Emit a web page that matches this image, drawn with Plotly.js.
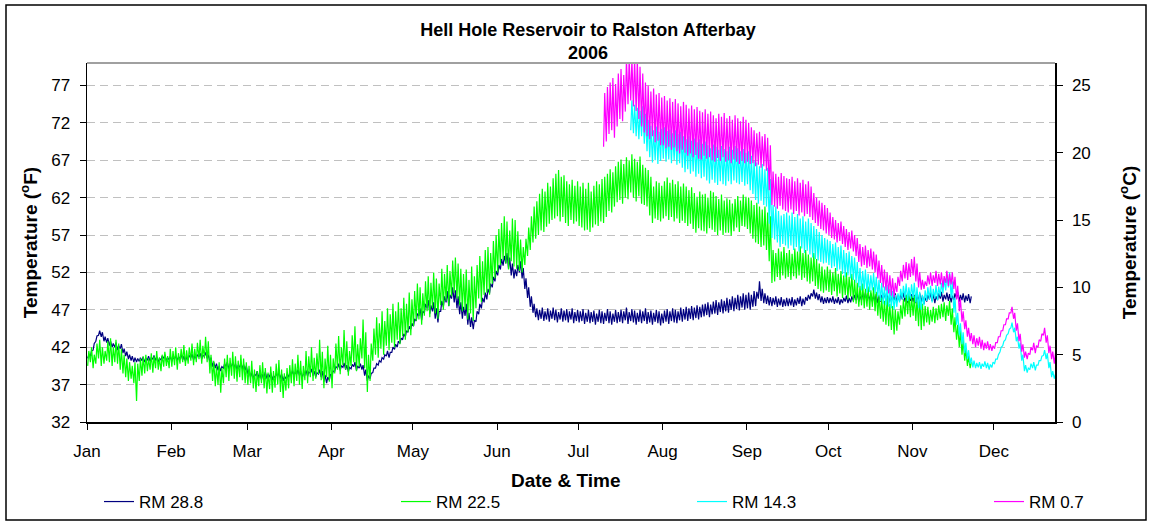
<!DOCTYPE html>
<html><head><meta charset="utf-8">
<script src="https://cdn.plot.ly/plotly-3.0.1.min.js"></script>
<style>html,body{margin:0;padding:0;background:#fff;}#chart{width:1151px;height:521px;}</style>
</head><body><div id="chart"></div>
<script>
// Month tick positions and labels
const monthTicks = ['2006-01-01','2006-02-01','2006-03-01','2006-04-01','2006-05-01','2006-06-01','2006-07-01','2006-08-01','2006-09-01','2006-10-01','2006-11-01','2006-12-01'];
const monthLabels = ['Jan','Feb','Mar','Apr','May','Jun','Jul','Aug','Sep','Oct','Nov','Dec'];
const seriesNames = ['RM 28.8','RM 22.5','RM 14.3','RM 0.7'];

// RM 28.8 : daily low / high (deg F), 1 Jan - 22 Nov
const rm288Start = '2006-01-01';
const rm288Hi = [
41.0,41.5,42.5,43.5,44.2,44.0,43.4,43.2,42.8,42.5,
42.6,42.2,42.4,41.8,41.4,41.0,40.8,40.6,40.5,40.6,
40.7,40.5,40.8,40.6,40.9,40.7,40.5,40.8,41.0,40.6,40.8,
40.6,40.9,40.7,41.0,40.8,40.6,40.9,41.1,40.8,41.0,41.2,40.9,41.3,41.0,
40.6,40.0,39.8,39.5,39.4,39.8,40.0,39.7,40.0,39.8,39.6,39.9,39.7,39.5,
39.0,38.6,38.4,38.8,38.5,38.3,38.7,38.4,38.6,38.2,38.5,38.7,38.4,38.1,38.4,
38.6,38.9,38.7,39.0,38.8,38.5,38.9,38.7,39.1,38.8,38.6,39.0,38.8,38.3,38.0,38.4,
38.8,39.4,39.8,39.5,39.9,39.6,39.3,39.7,40.0,39.5,39.8,39.6,39.0,38.2,38.5,
39.2,39.8,40.2,40.6,41.0,41.5,41.3,42.0,42.4,42.8,43.2,43.8,44.2,44.8,45.2,
45.8,46.5,47.2,46.8,47.8,48.3,47.6,48.0,47.2,46.8,48.2,48.8,49.5,49.0,50.0,
49.6,48.8,48.0,47.4,47.8,46.6,46.0,45.6,46.8,47.8,48.6,49.3,49.8,50.5,51.4,52.2,
53.0,53.8,54.2,54.6,54.0,53.2,52.4,53.0,53.5,52.6,51.2,50.0,48.8,47.8,47.2,
47.0,47.3,46.8,47.2,46.9,47.3,47.0,46.7,47.2,46.9,47.1,46.8,47.2,46.7,47.0,
46.8,47.1,46.6,47.0,46.7,46.9,46.5,47.0,46.8,46.6,47.1,46.8,46.5,47.0,46.7,
47.0,46.8,47.3,46.7,47.1,46.9,46.6,47.0,46.8,47.2,46.7,46.9,46.6,47.0,46.8,46.5,
46.9,47.1,46.8,47.2,47.0,46.8,47.3,47.1,47.4,47.2,47.5,47.3,47.6,47.4,47.7,
47.8,48.0,47.7,48.1,48.3,48.0,48.4,48.2,48.6,48.4,48.8,48.6,49.0,48.8,49.2,49.0,
49.3,49.0,49.5,49.4,50.8,49.8,49.2,48.9,48.7,48.6,48.8,48.5,48.7,48.4,48.6,
48.5,48.7,48.4,48.6,48.8,48.5,48.7,49.0,49.2,49.7,49.3,49.1,48.8,48.6,48.7,
48.6,48.8,48.5,48.7,48.4,48.6,48.9,48.6,48.8,49.0,49.2,48.9,49.1,49.3,49.0,
49.2,48.9,49.1,48.8,49.0,49.3,49.1,48.8,49.0,49.2,48.9,49.1,49.3,49.0,48.8,49.1,
49.0,48.8,49.2,48.9,48.6,49.0,49.3,49.1,48.8,49.2,49.4,49.0,49.3,49.1,48.9,49.2,49.4,49.0,49.2,48.9,49.1,48.8
];
const rm288Lo = [
40.5,40.8,41.6,42.8,43.6,43.4,42.8,42.6,42.2,42.0,
42.0,41.6,41.8,41.2,40.8,40.4,40.2,40.0,40.0,40.1,
40.2,40.0,40.3,40.1,40.4,40.2,40.0,40.3,40.5,40.1,40.3,
40.1,40.4,40.2,40.5,40.3,40.1,40.4,40.6,40.3,40.5,40.7,40.4,40.8,40.5,
40.0,39.4,39.2,38.9,38.8,39.2,39.4,39.1,39.4,39.2,39.0,39.3,39.1,38.9,
38.4,38.0,37.8,38.2,37.9,37.7,38.1,37.8,38.0,37.6,37.9,38.1,37.8,37.5,37.8,
38.0,38.3,38.1,38.4,38.2,37.9,38.3,38.1,38.5,38.2,38.0,38.4,38.0,37.4,37.2,37.6,
38.2,38.8,39.2,38.9,39.3,39.0,38.7,39.1,39.4,38.9,39.2,39.0,38.2,37.5,37.8,
38.6,39.2,39.6,40.0,40.4,40.8,40.6,41.3,41.7,42.0,42.5,43.0,43.4,44.0,44.4,
44.8,45.5,46.2,45.6,46.6,47.2,46.5,46.8,45.8,45.3,46.8,47.4,48.0,47.5,48.5,
48.0,47.2,46.4,45.8,46.2,45.0,44.7,44.4,45.4,46.4,47.2,48.0,48.4,49.2,50.0,50.8,
51.6,52.4,52.9,53.2,52.5,51.6,51.2,51.5,52.0,51.2,49.8,48.6,47.4,46.6,46.0,
45.6,45.8,45.5,45.7,45.4,45.8,45.6,45.3,45.7,45.4,45.6,45.3,45.7,45.2,45.5,
45.3,45.5,45.1,45.4,45.2,45.4,45.0,45.4,45.2,45.1,45.5,45.2,45.0,45.4,45.2,
45.4,45.2,45.6,45.1,45.5,45.3,45.0,45.4,45.2,45.5,45.1,45.3,45.0,45.4,45.2,44.9,
45.2,45.4,45.1,45.5,45.3,45.2,45.6,45.4,45.7,45.5,45.8,45.6,45.9,45.7,46.0,
46.1,46.3,46.0,46.4,46.5,46.3,46.7,46.5,46.8,46.6,47.0,46.8,47.1,46.9,47.3,47.0,
47.2,47.0,47.4,47.5,48.5,48.2,47.9,47.8,47.6,47.5,47.7,47.4,47.6,47.4,47.5,
47.5,47.6,47.4,47.6,47.8,47.5,47.7,48.2,48.4,48.8,48.5,48.3,48.0,47.8,47.9,
47.9,48.0,47.8,47.9,47.7,47.9,48.1,47.9,48.0,48.2,48.3,48.1,48.3,48.4,48.2,
48.3,48.1,48.2,47.9,48.1,48.4,48.2,47.9,48.1,48.3,48.0,48.2,48.4,48.1,47.9,48.2,
48.1,47.9,48.3,48.0,47.8,48.1,48.4,48.2,47.9,48.3,48.5,48.1,48.4,48.2,48.0,48.3,48.5,48.1,48.3,48.0,48.2,47.9
];

// RM 22.5 : daily low / high (deg F), 1 Jan - 22 Nov
const rm225Start = '2006-01-01';
const rm225Hi = [
41.5,42.0,41.0,42.5,43.0,42.0,41.5,42.8,43.2,42.0,
43.0,42.5,41.8,41.0,40.5,40.0,39.5,40.0,39.8,40.5,
40.8,41.0,40.5,41.2,40.8,41.5,40.6,41.0,41.4,40.8,41.8,
41.5,42.0,41.2,41.8,42.3,41.6,42.0,42.5,41.8,42.6,43.0,42.2,43.4,42.8,
41.0,40.2,39.5,40.0,39.2,40.5,41.0,40.6,41.4,40.8,40.2,41.0,40.5,40.0,
39.5,40.2,39.0,38.8,39.6,40.0,39.2,38.6,39.4,38.8,39.8,40.3,39.0,38.5,39.2,
39.6,40.4,39.8,41.0,40.2,39.5,41.5,40.8,42.0,40.6,41.2,43.0,41.4,40.5,42.2,41.0,
40.5,42.5,43.5,42.0,44.3,42.8,41.5,43.6,44.8,42.4,43.2,45.7,44.0,41.0,42.5,
44.5,46.0,45.2,46.8,45.5,47.2,46.4,47.8,46.8,48.0,47.2,48.6,47.8,49.3,48.4,
49.5,50.5,50.0,49.2,50.8,51.5,50.6,52.0,51.2,50.5,52.5,51.8,53.0,52.2,53.6,
54.0,53.2,52.5,51.8,52.4,51.0,52.8,51.5,53.0,54.2,53.5,55.0,55.4,54.6,56.2,57.0,
57.8,58.6,59.5,58.8,57.6,59.2,59.0,57.5,56.4,55.4,56.5,58.0,59.5,60.8,61.5,
62.5,63.2,62.8,64.0,63.5,64.6,65.2,65.7,64.8,65.0,64.2,63.8,64.4,63.6,64.2,
63.5,64.0,63.2,64.0,62.8,63.6,64.2,63.8,64.5,64.8,65.2,65.8,65.4,66.2,66.8,
67.1,66.5,67.4,67.0,67.8,67.2,66.8,67.5,66.4,66.0,65.7,64.8,63.5,64.2,64.0,63.6,
64.2,64.7,64.0,64.4,63.8,64.2,63.5,63.9,63.5,63.0,63.4,62.6,62.1,62.8,62.4,
62.5,62.0,62.9,62.7,62.2,61.8,62.4,61.6,61.9,61.7,61.2,61.8,62.2,61.6,62.4,62.1,
62.0,61.6,61.0,61.3,60.8,60.4,60.8,60.0,59.5,55.0,54.6,55.2,54.8,55.4,54.6,
55.0,54.5,55.2,54.8,55.5,54.6,55.0,54.4,54.0,54.6,53.8,53.2,52.8,52.4,52.8,
52.4,52.0,52.6,51.8,52.2,51.6,52.0,51.4,51.8,51.0,50.6,50.2,50.5,49.8,50.1,
49.6,50.0,49.4,49.0,48.6,48.2,48.7,47.8,47.5,47.0,46.8,47.6,48.4,49.0,49.3,48.8,
48.9,48.5,48.7,47.8,47.5,47.4,47.0,47.4,47.2,47.6,47.8,48.0,47.6,48.2,47.2,46.0,45.0,44.3,43.0,41.8,40.8,40.0
];
const rm225Lo = [
39.5,40.0,39.2,39.8,40.5,39.5,39.8,40.2,40.0,39.5,
40.0,39.8,39.0,38.5,38.0,37.5,37.8,37.2,34.8,37.5,
38.2,38.5,38.8,39.0,38.6,39.2,39.0,38.8,39.4,39.5,39.2,
39.4,39.6,39.0,39.8,40.0,39.5,39.8,40.2,39.6,40.0,40.4,39.8,40.5,40.0,
38.5,37.5,36.8,37.0,35.9,37.2,38.0,37.5,38.2,37.8,37.4,38.0,37.6,37.2,
37.0,37.2,36.5,36.0,36.8,37.2,36.5,35.8,36.4,35.9,36.6,37.0,36.0,35.2,36.2,
36.5,37.2,36.8,37.5,37.0,36.4,37.6,37.2,38.0,37.5,37.8,38.4,37.6,36.5,38.0,37.4,
36.5,38.5,39.0,38.4,39.6,39.0,38.2,39.5,40.0,38.8,39.4,40.5,39.2,36.0,37.5,
40.2,41.0,40.6,41.8,41.0,42.2,41.6,42.6,42.0,43.0,42.4,43.5,43.0,44.0,43.6,
44.8,45.5,45.7,45.0,46.2,46.8,46.0,47.2,46.5,45.8,47.6,47.0,48.2,47.5,48.8,
49.3,48.5,47.6,46.8,47.0,45.7,46.5,45.5,47.2,48.5,48.0,49.0,49.3,49.0,50.5,51.2,
52.0,53.0,53.7,53.2,52.4,53.5,52.8,52.5,52.2,52.0,53.0,54.2,55.0,56.0,56.5,
57.0,57.6,57.4,58.1,58.5,59.0,59.2,59.5,58.8,59.4,58.6,58.2,59.0,58.5,58.8,
58.2,58.0,57.6,57.7,57.4,58.0,58.4,58.2,58.8,58.6,59.4,60.2,60.0,60.8,61.4,
61.7,61.2,62.0,61.8,62.7,62.0,61.5,62.2,61.2,61.0,60.8,59.6,58.6,59.2,59.0,58.8,
59.2,59.5,59.0,59.4,58.8,59.2,58.6,58.9,58.6,58.2,58.5,57.8,57.3,57.9,57.6,
57.5,57.2,57.9,57.7,57.4,57.0,57.6,57.0,57.3,57.3,56.9,57.5,58.0,57.4,58.2,58.1,
57.8,57.2,56.5,56.0,55.8,55.4,55.6,55.0,53.5,50.6,50.8,51.4,51.0,51.6,51.2,
51.4,51.0,51.5,51.2,51.6,51.0,51.3,50.8,50.5,50.8,50.2,49.8,49.5,49.3,49.6,
49.4,49.0,49.5,48.8,49.2,48.6,49.0,48.4,48.8,48.0,47.8,47.4,47.6,47.2,47.4,
47.0,47.4,46.8,46.2,45.8,45.4,45.0,44.8,44.3,43.7,44.2,45.0,45.8,46.1,46.4,46.0,
46.2,45.5,44.8,44.3,44.8,45.3,45.0,45.4,45.2,45.6,45.8,46.0,45.5,46.2,45.0,44.0,43.0,42.0,41.0,40.2,39.5,39.2
];

// RM 14.3 : daily low / high (deg F), 20 Jul - 23 Dec
const rm143Start = '2006-07-20';
const rm143Hi = [
75.0,74.4,74.0,73.6,74.2,73.2,72.4,71.6,71.0,71.5,70.8,71.2,
71.4,70.9,71.1,70.6,71.0,70.5,70.8,70.2,69.8,70.2,69.6,69.9,69.4,69.8,69.2,
69.5,69.0,68.6,69.1,68.8,68.4,68.9,68.5,68.2,68.8,68.4,68.9,68.6,68.2,68.5,68.0,
68.2,67.6,67.0,66.7,66.2,66.5,65.8,66.0,64.5,61.0,60.8,60.2,59.6,59.8,60.0,
59.6,60.0,59.4,59.8,59.2,59.5,58.8,59.2,58.6,58.2,57.8,57.4,57.0,56.6,56.4,
56.2,55.8,56.0,55.4,55.6,55.0,54.6,54.8,54.2,54.0,53.4,52.6,52.2,52.4,51.8,
51.6,51.9,51.4,51.0,50.6,50.1,50.3,49.8,49.5,49.0,49.2,49.8,50.2,50.5,50.0,50.4,
50.6,50.0,49.4,49.0,49.6,50.0,50.2,49.8,50.3,50.1,50.6,51.2,51.6,52.0,50.8,48.6,46.6,45.2,44.0,42.6,41.6,40.6,40.2,39.9,40.0,39.8,40.1,39.9,39.7,40.0,
40.4,41.0,42.0,42.8,43.6,44.4,45.3,44.6,43.4,42.6,41.0,39.6,39.2,39.8,40.0,39.6,40.2,40.8,41.6,41.2,40.0,38.8,38.4
];
const rm143Lo = [
71.0,70.6,70.2,69.8,70.2,69.2,68.2,67.4,66.7,67.0,66.5,66.9,
67.2,66.8,67.1,66.6,67.0,66.4,66.6,66.0,65.4,65.8,65.2,65.5,64.8,65.2,64.6,
64.8,64.3,63.9,64.4,64.0,63.7,64.2,63.8,63.6,64.2,63.8,64.3,64.0,63.8,64.1,63.6,
63.8,63.0,62.5,61.7,61.2,61.6,61.0,60.8,58.5,56.6,56.4,56.0,55.4,55.8,55.6,
55.2,55.6,55.0,55.4,54.8,55.2,54.6,54.9,54.4,54.0,53.8,53.6,53.4,53.2,53.3,
53.0,52.6,52.8,52.2,52.4,51.8,51.4,51.6,51.2,51.0,50.6,50.0,49.6,49.8,49.3,
49.4,49.6,49.2,48.8,48.2,47.8,47.6,47.4,47.2,47.0,47.4,48.0,48.4,48.6,48.2,48.5,
48.6,48.0,47.2,47.0,47.6,48.2,48.4,48.0,48.5,48.3,48.8,49.2,49.6,50.0,48.6,46.6,45.0,43.6,42.4,41.2,40.4,39.8,39.3,39.2,39.3,39.1,39.4,39.2,39.0,39.3,
39.8,40.4,41.4,42.2,43.0,43.8,44.6,44.0,42.8,41.8,40.2,38.8,38.6,39.0,39.2,38.9,39.6,40.2,40.9,40.4,39.2,38.0,37.8
];

// RM 0.7 : daily low / high (deg F), 10 Jul - 23 Dec
const rm07Start = '2006-07-10';
const rm07Hi = [
76.0,76.8,77.4,78.0,77.2,78.6,79.2,78.4,80.5,80.5,80.5,80.5,80.5,79.5,78.6,77.4,77.0,76.2,76.6,75.8,76.0,75.4,
75.6,75.0,75.3,74.8,75.2,74.6,74.2,74.8,74.4,73.9,74.3,73.8,74.1,73.6,73.4,
73.8,73.2,73.5,73.0,72.6,73.2,72.8,73.3,72.6,72.9,72.4,73.0,72.6,72.2,72.8,72.4,
72.0,71.4,71.0,70.6,70.8,70.2,70.5,70.0,69.0,65.5,65.2,64.8,65.3,64.9,64.6,
64.5,64.8,64.2,64.6,64.0,64.4,63.8,64.2,63.5,62.6,62.0,61.6,61.3,61.0,60.6,
60.0,59.4,59.0,58.6,58.8,58.2,57.8,57.4,57.6,57.0,56.6,55.8,55.4,55.6,55.0,
55.2,54.8,54.4,53.6,53.0,52.4,52.0,51.6,51.2,50.6,51.4,52.2,53.0,53.4,53.2,53.8,
54.1,53.2,52.0,51.0,50.8,51.6,52.0,51.6,52.2,51.8,52.0,51.5,52.2,51.8,52.0,51.4,50.2,48.4,46.8,45.6,44.6,43.9,43.6,43.2,43.4,43.0,42.6,42.8,42.4,42.2,
42.6,43.4,44.2,45.0,45.8,46.6,47.4,46.6,45.2,43.8,42.4,41.4,41.2,42.0,42.6,42.2,43.0,43.8,44.6,43.6,42.2,41.4,41.2
];
const rm07Lo = [
68.8,69.5,70.5,71.0,70.0,71.5,72.5,72.2,73.5,74.5,75.0,74.2,73.6,72.5,71.5,70.7,70.2,69.8,70.2,69.4,69.6,69.0,
69.0,68.6,68.8,68.4,68.7,68.2,67.9,68.4,68.0,67.6,67.9,67.4,67.7,67.2,67.1,
67.6,67.2,67.4,67.0,66.8,67.3,66.9,67.4,66.8,67.0,66.6,67.1,66.8,66.5,66.9,66.6,
66.8,66.5,66.6,66.2,66.4,66.0,66.2,65.6,63.0,61.0,60.8,60.5,60.9,60.4,60.2,
60.0,60.4,59.8,60.2,59.6,60.0,59.5,59.8,59.4,59.0,58.6,58.2,57.8,57.6,57.2,
57.0,56.6,56.4,56.0,56.2,55.8,55.4,55.0,55.2,54.8,54.2,53.4,52.8,53.0,52.6,
52.8,52.4,52.0,51.2,50.6,50.0,49.6,49.2,48.9,48.7,49.4,50.2,50.8,51.2,51.0,51.4,
51.6,50.8,50.0,49.7,49.8,50.2,50.4,50.2,50.6,50.2,50.4,50.0,50.6,50.2,50.4,49.8,48.4,46.8,45.4,44.4,43.4,42.8,42.4,42.0,42.2,41.8,41.6,41.8,41.6,41.5,
41.8,42.6,43.4,44.2,45.0,45.8,46.6,45.8,44.2,42.8,41.4,40.6,40.4,41.0,41.6,41.2,42.0,42.8,43.6,42.6,41.2,40.4,39.8
];

// ---- build traces (low reading early morning, high reading afternoon) ----
function fmt(ms){ return new Date(ms).toISOString().slice(0,16).replace('T',' '); }
function build(start, lo, hi){
  const t0 = Date.parse(start + 'T00:00:00Z');
  const x = [], y = [];
  const n = Math.min(lo.length, hi.length);
  for (let i = 0; i < n; i++){
    x.push(fmt(t0 + (i + 0.25) * 86400000)); y.push(lo[i]);
    x.push(fmt(t0 + (i + 0.67) * 86400000)); y.push(hi[i]);
  }
  return {x, y};
}
const colors = ['#000080','#00FF00','#00FFFF','#FF00FF'];
const legendIds = ['legend','legend2','legend3','legend4'];
const sets = [build(rm288Start, rm288Lo, rm288Hi), build(rm225Start, rm225Lo, rm225Hi),
              build(rm143Start, rm143Lo, rm143Hi), build(rm07Start, rm07Lo, rm07Hi)];
const traces = sets.map((s, i) => ({
  type: 'scatter', mode: 'lines', name: seriesNames[i], x: s.x, y: s.y,
  legend: legendIds[i],
  line: {color: colors[i], width: 1.2}, hoverinfo: 'skip'
}));
// empty trace so that the right (deg C) axis is laid out
traces.push({type:'scatter', mode:'lines', x: [], y: [], yaxis: 'y2', showlegend: false, hoverinfo: 'skip'});

const L = 87, R = 1055, T = 63, B = 422, W = 1151, H = 521;
const px = v => (v - L) / (R - L), py = v => (B - v) / (B - T);
const FONT = 'Arial, "Liberation Sans", sans-serif';

function legendAt(xPix){
  return {orientation: 'h', xref: 'container', yref: 'container',
          x: xPix / W, xanchor: 'left', y: 1 - 502 / H, yanchor: 'middle',
          bgcolor: 'rgba(0,0,0,0)', borderwidth: 0,
          font: {family: FONT, size: 17, color: '#000'}};
}

const layout = {
  width: W, height: H,
  margin: {l: L, r: W - R, t: T, b: H - B, pad: 0},
  paper_bgcolor: '#ffffff', plot_bgcolor: '#ffffff',
  font: {family: FONT, size: 17, color: '#000'},
  showlegend: true,
  title: {text: '<b>Hell Hole Reservoir to Ralston Afterbay</b><br><b>2006</b>',
          font: {family: FONT, size: 18, color: '#000'},
          xref: 'container', x: 588 / W, xanchor: 'center',
          yref: 'container', y: 1 - 36 / H, yanchor: 'top'},
  xaxis: {
    type: 'date', range: ['2006-01-01', '2006-12-23 12:00'],
    tickmode: 'array', tickvals: monthTicks, ticktext: monthLabels,
    ticks: 'outside', ticklen: 6, tickcolor: '#000', tickwidth: 1,
    showline: true, linecolor: '#000', linewidth: 1.5,
    showgrid: false, zeroline: false, ticklabelstandoff: 7,
    tickfont: {family: FONT, size: 17, color: '#000'}
  },
  yaxis: {
    range: [32, 80], tickmode: 'array', tickvals: [32,37,42,47,52,57,62,67,72,77],
    ticks: 'outside', ticklen: 6, tickcolor: '#000',
    showline: true, linecolor: '#000', linewidth: 1.5, zeroline: false,
    showgrid: true, gridcolor: '#c0c0c0', griddash: '8px,5px', gridwidth: 1,
    ticklabelstandoff: 6,
    tickfont: {family: FONT, size: 17, color: '#000'},
    title: {text: '<b>Temperature (<sup>o</sup>F)</b>', font: {family: FONT, size: 19, color: '#000'}, standoff: 8}
  },
  yaxis2: {
    overlaying: 'y', side: 'right', range: [0, 26.6667],
    tickmode: 'array', tickvals: [0,5,10,15,20,25],
    ticks: 'outside', ticklen: 6, tickcolor: '#000',
    showline: true, linecolor: '#000', linewidth: 1.5, zeroline: false, showgrid: false,
    ticklabelstandoff: 6,
    tickfont: {family: FONT, size: 17, color: '#000'},
    title: {text: '<b>Temperature (<sup>o</sup>C)</b>', font: {family: FONT, size: 19, color: '#000'}, standoff: 33}
  },
  annotations: [
    {text: '<b>Date & Time</b>', xref: 'paper', yref: 'paper',
     x: px(565), xanchor: 'center', y: py(480), yanchor: 'middle',
     showarrow: false, font: {family: FONT, size: 19, color: '#000'}}
  ],
  legend: legendAt(99),
  legend2: legendAt(396),
  legend3: legendAt(692),
  legend4: legendAt(989),
  shapes: [
    {type: 'line', xref: 'paper', yref: 'paper', x0: 0, x1: 1, y0: 1, y1: 1,
     line: {color: '#a0a0a0', width: 2}},
    {type: 'rect', xref: 'paper', yref: 'paper', x0: px(6), x1: px(1146), y0: py(520), y1: py(5),
     line: {color: '#000', width: 1.5}, fillcolor: 'rgba(0,0,0,0)', layer: 'below'}
  ]
};
Plotly.newPlot('chart', traces, layout, {displayModeBar: false, staticPlot: true});
</script></body></html>
